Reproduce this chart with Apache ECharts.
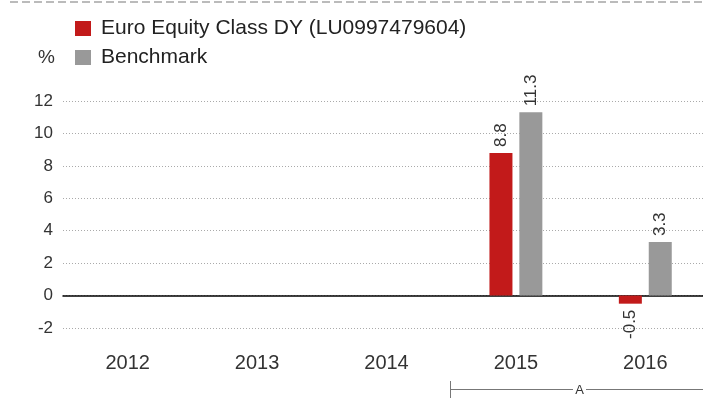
<!DOCTYPE html>
<html>
<head>
<meta charset="utf-8">
<script src="https://cdn.jsdelivr.net/npm/echarts@6/dist/echarts.min.js"></script>
<style>
  html, body { margin: 0; padding: 0; background: #fff; overflow: hidden; }
  /* a bit wider than the window: the plot area runs past the right edge */
  #chart { width: 710px; height: 403px; }
</style>
</head>
<body>
<div id="chart"></div>
<script>
const years = ['2012', '2013', '2014', '2015', '2016']
const fundName = 'Euro Equity Class DY (LU0997479604)'
const fund = [null, null, null, 8.8, -0.5]
const benchmark = [null, null, null, 11.3, 3.3]

const FONT = "'Liberation Sans', Arial, Helvetica, sans-serif"

// label goes above positive bars, below negative ones
function withLabels(arr) {
  return arr.map(v => {
    if (v == null) return null
    return {
      value: v,
      label: v < 0
        ? { position: 'bottom', align: 'right' }
        : { position: 'top', align: 'left' }
    }
  })
}

const barLabel = {
  show: true,
  rotate: 90,
  verticalAlign: 'middle',
  distance: 6,
  fontSize: 17,
  fontFamily: FONT,
  color: '#333',
  formatter: p => p.value.toFixed(1)
}

const option = {
  animation: false,
  textStyle: { fontFamily: FONT },
  title: {
    text: '%',
    left: 33,
    top: 43,
    textStyle: { fontSize: 19, fontWeight: 'normal', color: '#333', fontFamily: FONT }
  },
  legend: {
    orient: 'vertical',
    left: 70,
    top: 13,
    itemWidth: 16,
    itemHeight: 15,
    itemGap: 8,
    icon: 'rect',
    textStyle: { fontSize: 21, color: '#222', fontFamily: FONT, padding: [0, 0, 0, 5] }
  },
  grid: {
    left: 63,
    top: 101,
    width: 647,
    height: 227,
    containLabel: false
  },
  xAxis: {
    type: 'category',
    data: years,
    axisTick: { show: false },
    axisLine: { onZero: true, lineStyle: { color: '#000', width: 1.5 } },
    axisLabel: {
      fontSize: 20,
      color: '#333',
      margin: 25,
      fontFamily: FONT
    }
  },
  yAxis: {
    type: 'value',
    min: -2,
    max: 12,
    interval: 2,
    axisLine: { show: false },
    axisTick: { show: false },
    axisLabel: { fontSize: 17, color: '#333', margin: 10, fontFamily: FONT },
    splitLine: { lineStyle: { color: '#aaa', type: [1, 2], width: 1 } }
  },
  series: [
    {
      name: fundName,
      type: 'bar',
      data: withLabels(fund),
      barWidth: 23,
      barGap: '30%',
      itemStyle: { color: '#c21a1a' },
      label: barLabel
    },
    {
      name: 'Benchmark',
      type: 'bar',
      data: withLabels(benchmark),
      barWidth: 23,
      itemStyle: { color: '#999999' },
      label: barLabel
    }
  ],
  graphic: [
    {
      type: 'line',
      shape: { x1: 10, y1: 2, x2: 710, y2: 2 },
      style: { stroke: '#bbb', lineWidth: 2, lineDash: [8, 4] }
    },
    {
      type: 'line',
      shape: { x1: 450.5, y1: 381, x2: 450.5, y2: 398 },
      style: { stroke: '#777', lineWidth: 1 }
    },
    {
      type: 'line',
      shape: { x1: 450, y1: 389.5, x2: 573, y2: 389.5 },
      style: { stroke: '#777', lineWidth: 1 }
    },
    {
      type: 'line',
      shape: { x1: 586, y1: 389.5, x2: 710, y2: 389.5 },
      style: { stroke: '#777', lineWidth: 1 }
    },
    {
      type: 'text',
      x: 579.5,
      y: 390,
      style: {
        text: 'A',
        fontSize: 13,
        fontFamily: FONT,
        fill: '#333',
        align: 'center',
        verticalAlign: 'middle'
      }
    }
  ]
}

const chart = echarts.init(document.getElementById('chart'))
chart.setOption(option)
</script>
</body>
</html>
